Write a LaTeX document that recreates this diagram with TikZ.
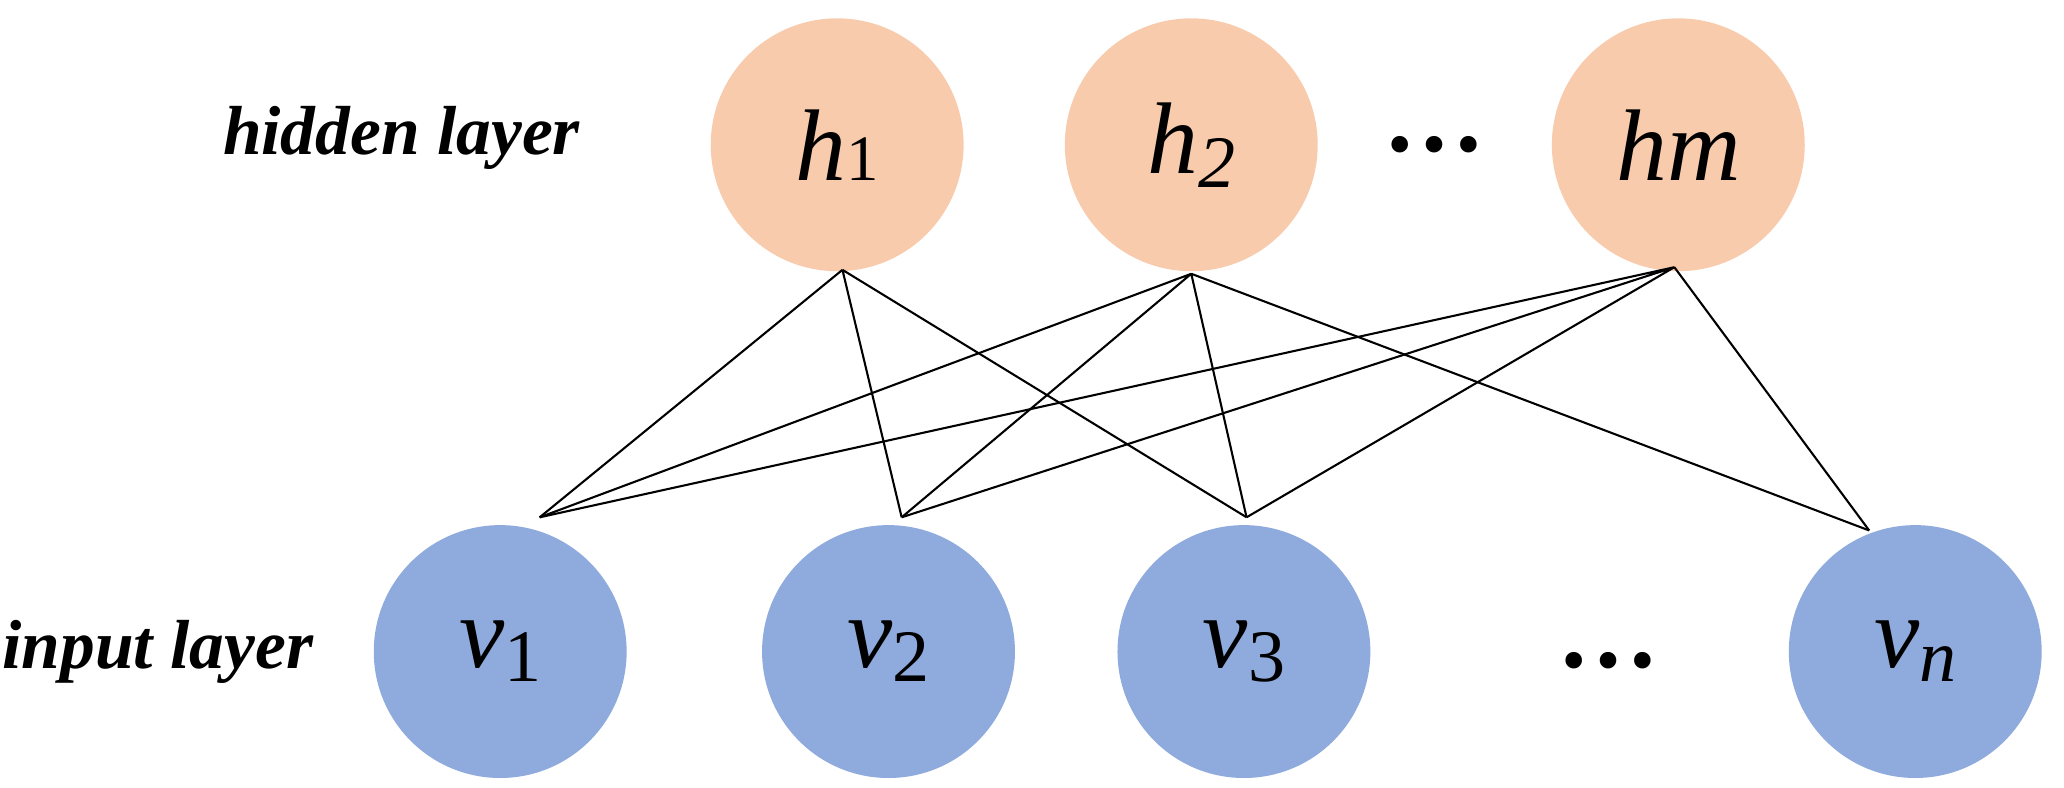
\documentclass[tikz,border=0pt]{standalone}
\usepackage{fontspec}
\setmainfont{Liberation Serif}
\begin{document}
\begin{tikzpicture}[x=0.01cm,y=-0.01cm,
  hid/.style={circle,fill={rgb,255:red,248;green,203;blue,173},minimum size=1.92cm,inner sep=0pt,font=\fontsize{22}{24}\selectfont\itshape},
  inp/.style={circle,fill={rgb,255:red,143;green,170;blue,220},minimum size=1.92cm,inner sep=0pt,font=\fontsize{22}{24}\selectfont\itshape},
  lab/.style={font=\fontsize{15}{18}\selectfont\bfseries\itshape},
  con/.style={line width=0.45pt,black}]
\useasboundingbox (0,0) rectangle (1568,598);
\node[hid] (h1) at (636,110) {h\textup{\fontsize{14}{16}\selectfont 1}};
\node[hid] (h2) at (905,110) {h\raisebox{-0.3ex}{\fontsize{16}{16}\selectfont 2}};
\node[hid] (hm) at (1275,110) {hm};
\node[inp] (v1) at (380,495) {v\textup{\raisebox{-0.3ex}{\fontsize{16}{16}\selectfont 1}}};
\node[inp] (v2) at (675,495) {v\textup{\raisebox{-0.3ex}{\fontsize{16}{16}\selectfont 2}}};
\node[inp] (v3) at (945,495) {v\textup{\raisebox{-0.3ex}{\fontsize{16}{16}\selectfont 3}}};
\node[inp] (vn) at (1455,495) {v\raisebox{-0.3ex}{\fontsize{16}{16}\selectfont n}};
\node[lab] (hl) at (305,105) {hidden layer};
\node[lab] (il) at (120,495) {input layer};
\node[font=\fontsize{22}{24}\selectfont\bfseries] (d1) at (1090,110) {\dots};
\node[font=\fontsize{22}{24}\selectfont\bfseries] (d2) at (1222,502) {\dots};
\coordinate (a1) at (640,205); \coordinate (a2) at (905,208); \coordinate (am) at (1272,203);
\coordinate (b1) at (410,393); \coordinate (b2) at (685,393); \coordinate (b3) at (947,393); \coordinate (bn) at (1420,403);
\draw[con] (a1) -- (b1) (a1) -- (b2) (a1) -- (b3);
\draw[con] (a2) -- (b1) (a2) -- (b2) (a2) -- (b3) (a2) -- (bn);
\draw[con] (am) -- (b1) (am) -- (b2) (am) -- (b3) (am) -- (bn);
\end{tikzpicture}
\end{document}
